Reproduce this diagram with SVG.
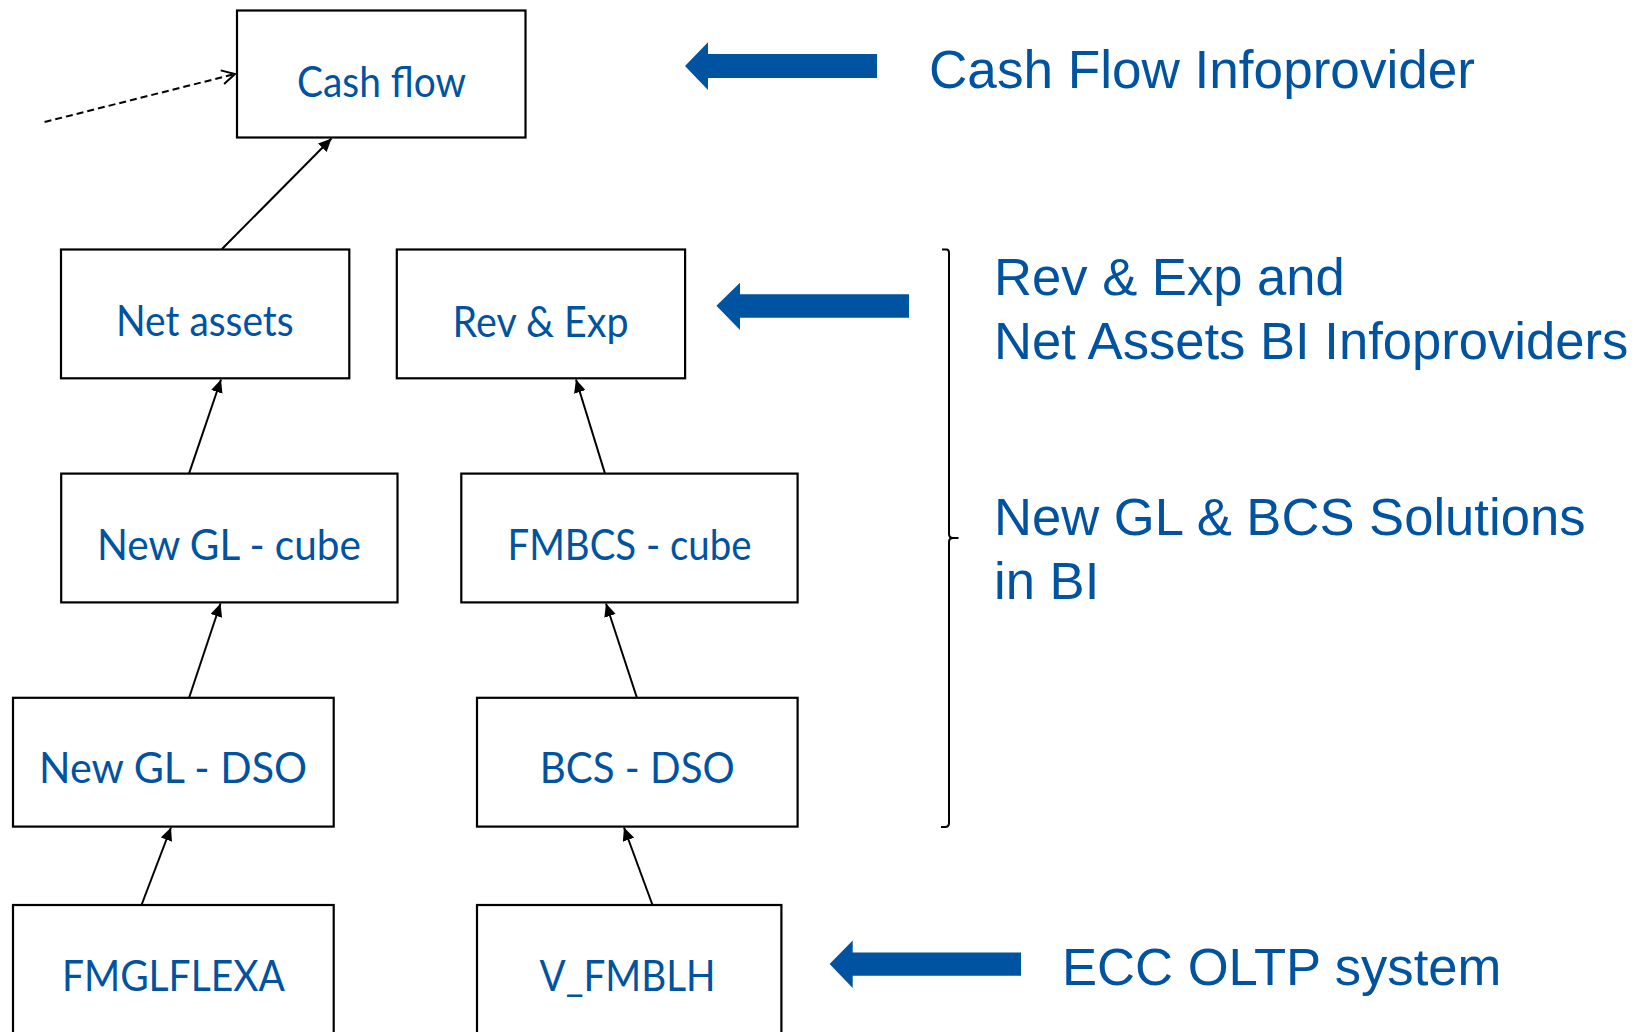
<svg xmlns="http://www.w3.org/2000/svg" width="1643" height="1032" viewBox="0 0 1643 1032">
<style>
.box{fill:#fff;stroke:#000;stroke-width:2.2}
.nt{font-family:Lato,"Open Sans",sans-serif;font-size:42px;fill:#0053a0;text-anchor:middle}
.rt{font-family:"Liberation Sans",Arial,sans-serif;font-size:52.6px;fill:#0053a0}
.con{stroke:#000;stroke-width:2;fill:none}
.big{fill:#0053a0}
</style>
<defs>
<marker id="ah" markerUnits="userSpaceOnUse" markerWidth="14" markerHeight="12" refX="13" refY="6" orient="auto">
<path d="M0,0 L13,6 L0,12 Z" fill="#000"/>
</marker>
<marker id="oa" markerUnits="userSpaceOnUse" markerWidth="16" markerHeight="16" refX="14" refY="8" orient="auto">
<path d="M1,1 L14,8 L1,15" fill="none" stroke="#000" stroke-width="2"/>
</marker>
</defs>
<rect width="1643" height="1032" fill="#fff"/>
<g id="connectors">
<line class="con" x1="44.6" y1="122" x2="235" y2="74" stroke-dasharray="7,4" marker-end="url(#oa)"/>
<line class="con" x1="222" y1="249" x2="331.5" y2="138.5" marker-end="url(#ah)"/>
<line class="con" x1="189" y1="473.6" x2="221" y2="379.5" marker-end="url(#ah)"/>
<line class="con" x1="605" y1="473.6" x2="576" y2="379.5" marker-end="url(#ah)"/>
<line class="con" x1="189" y1="698" x2="220.5" y2="603.5" marker-end="url(#ah)"/>
<line class="con" x1="637" y1="698" x2="606" y2="603.5" marker-end="url(#ah)"/>
<line class="con" x1="141.5" y1="905" x2="171" y2="827.5" marker-end="url(#ah)"/>
<line class="con" x1="652.5" y1="905" x2="624" y2="827.5" marker-end="url(#ah)"/>
</g>
<g id="node-cashflow"><rect class="box" x="237" y="10.5" width="288.5" height="127"/><text class="nt" x="381.5" y="96.7" textLength="169" lengthAdjust="spacingAndGlyphs">Cash flow</text></g>
<g id="node-netassets"><rect class="box" x="61" y="249.5" width="288.3" height="128.8"/><text class="nt" x="204.8" y="336" textLength="177.6" lengthAdjust="spacingAndGlyphs">Net assets</text></g>
<g id="node-revexp"><rect class="box" x="396.8" y="249.5" width="288.3" height="128.8"/><text class="nt" x="540.6" y="336.5" textLength="176" lengthAdjust="spacingAndGlyphs">Rev &amp; Exp</text></g>
<g id="node-newglcube"><rect class="box" x="61.2" y="473.6" width="336.3" height="128.8"/><text class="nt" x="228.9" y="560" textLength="264" lengthAdjust="spacingAndGlyphs">New GL - cube</text></g>
<g id="node-fmbcscube"><rect class="box" x="461.3" y="473.6" width="336.3" height="128.8"/><text class="nt" x="629.5" y="560" textLength="244" lengthAdjust="spacingAndGlyphs">FMBCS - cube</text></g>
<g id="node-newgldso"><rect class="box" x="13" y="697.8" width="320.7" height="128.8"/><text class="nt" x="173.1" y="783" textLength="268" lengthAdjust="spacingAndGlyphs">New GL - DSO</text></g>
<g id="node-bcsdso"><rect class="box" x="477" y="697.8" width="320.6" height="128.8"/><text class="nt" x="637.3" y="783" textLength="195" lengthAdjust="spacingAndGlyphs">BCS - DSO</text></g>
<g id="node-fmglflexa"><rect class="box" x="13" y="905" width="320.7" height="140"/><text class="nt" x="173.4" y="990.7" textLength="223" lengthAdjust="spacingAndGlyphs">FMGLFLEXA</text></g>
<g id="node-vfmblh"><rect class="box" x="477" y="905" width="304.4" height="140"/><text class="nt" x="627.6" y="990.7" textLength="176" lengthAdjust="spacingAndGlyphs">V_FMBLH</text></g>
<g id="annotations">
<path class="big" d="M685,66 L708,42.3 L708,54 L877,54 L877,78 L708,78 L708,90 Z"/>
<path class="big" d="M716.4,305.7 L740,282.7 L740,294.3 L909,294.3 L909,317.7 L740,317.7 L740,330 Z"/>
<path class="big" d="M829.6,964 L852.7,940.5 L852.7,952.6 L1021,952.6 L1021,975.7 L852.7,975.7 L852.7,988 Z"/>
<path d="M942,249.5 L947,249.5 Q949,250 949,253 L949,534 Q949,538 953,538 L958.5,538 M953,538 Q949,538 949,542 L949,823 Q949,827 945,827 L941,827" fill="none" stroke="#000" stroke-width="2"/>
<text class="rt" x="929" y="88.3" textLength="546" lengthAdjust="spacingAndGlyphs" style="font-size:54px">Cash Flow Infoprovider</text>
<text class="rt" x="994" y="295">Rev &amp; Exp and</text>
<text class="rt" x="994" y="359.3">Net Assets BI Infoproviders</text>
<text class="rt" x="994" y="534.8">New GL &amp; BCS Solutions</text>
<text class="rt" x="994" y="599">in BI</text>
<text class="rt" x="1062" y="985">ECC OLTP system</text>
</g>
</svg>
